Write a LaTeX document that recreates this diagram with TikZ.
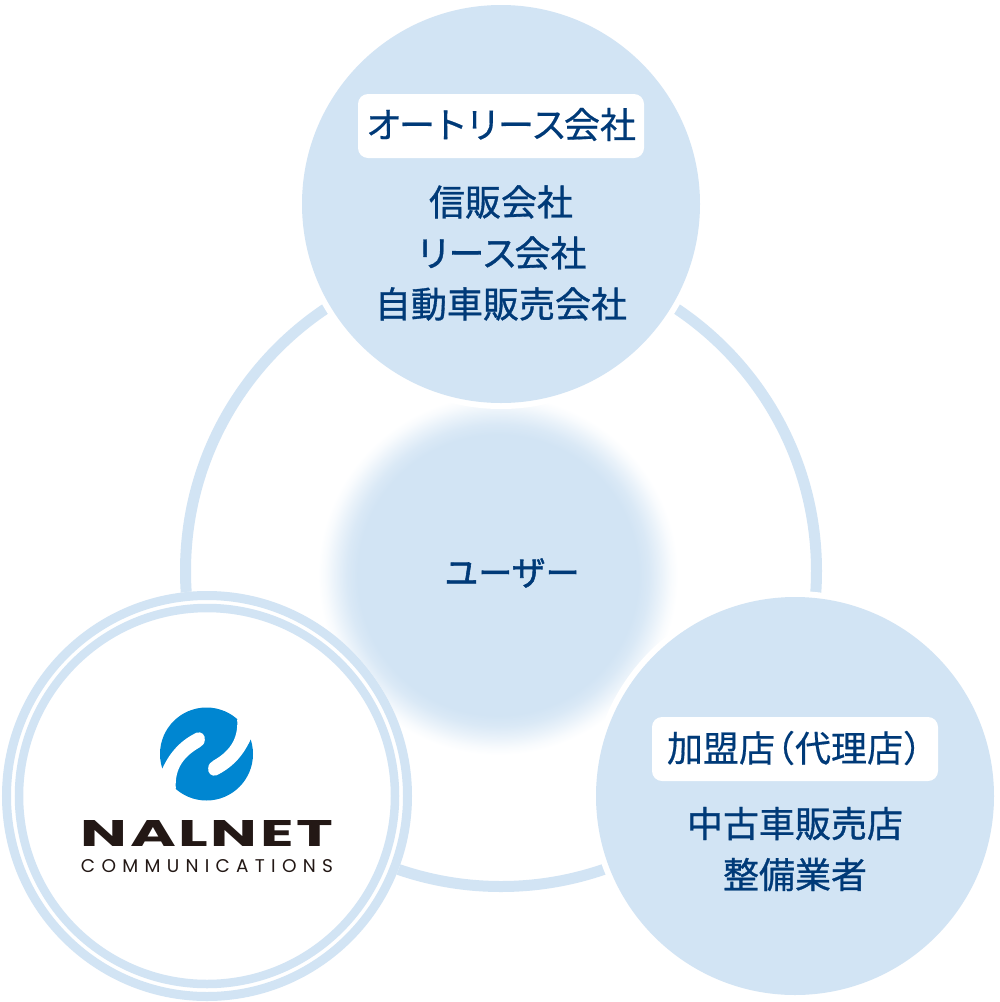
\documentclass[tikz,border=0pt]{standalone}
\usepackage{fontspec}
\usepackage{graphicx}
\newfontfamily\cjk{Noto Sans CJK JP}[FakeBold=0.9]
\newfontfamily\cjkheavy{Noto Sans CJK JP}[FakeBold=1.6]
\newfontfamily\cjklight{Noto Sans CJK JP}[FakeBold=0.5]
\newfontfamily\logofont{Poppins}[LetterSpace=4]
\newfontfamily\logosmall{Poppins}[LetterSpace=34]
\definecolor{paleblue}{HTML}{D2E4F4}
\definecolor{inkblue}{HTML}{003A78}
\definecolor{logoblue}{HTML}{0086D1}
\definecolor{logoblack}{HTML}{231815}
\pgfdeclareradialshading{userglow}{\pgfpoint{0bp}{0bp}}{
    color(0bp)=(paleblue); color(19.5bp)=(paleblue); color(21bp)=(paleblue!82!white);
    color(22.5bp)=(paleblue!50!white); color(24bp)=(paleblue!15!white); color(25bp)=(white); color(50bp)=(white)}
\begin{document}
\begin{tikzpicture}[x=1pt,y=-1pt]  % 1 unit = 1 pixel of the picture, y runs downwards

    % Define some common styles
    \tikzset{
        bubble/.style={circle, fill=paleblue, minimum size=398pt, inner sep=0pt},
        halo/.style={circle, fill=white, minimum size=410pt, inner sep=0pt},
        tagbox/.style={fill=white, rounded corners=10pt, minimum width=286pt, minimum height=64pt, inner sep=0pt},
        tagtext/.style={font=\cjklight\fontsize{36}{40}\selectfont, text=inkblue, inner sep=0pt},
        bodytext/.style={font=\cjk\fontsize{36}{51}\selectfont, text=inkblue, align=center, inner sep=0pt},
        linkring/.style={draw=paleblue, line width=11pt}
    }

    \useasboundingbox (0,0) rectangle (1000,1002);
    \fill[white] (0,0) rectangle (1000,1002);

    % Big ring that links the three circles
    \draw[linkring] (501,571) circle (315.5);

    % Soft circle in the middle
    \shade[shading=userglow] (498,575) circle (180);
    \node[font=\cjkheavy\fontsize{34}{40}\selectfont, text=inkblue, inner sep=0pt] (user) at (512,573) {ユーザー};

    % White rims, they cut the ring
    \node[halo] (toprim) at (501,204) {};
    \node[halo] (rightrim) at (795,796) {};

    % Top circle
    \node[bubble] (lease) at (501,204) {};
    \node[tagbox] (leasebox) at (501,126) {};
    \node[tagtext] (leasetag) at (501,124.5) {オ\kern-3pt ー\kern-3pt ト\kern-3pt リ\kern-3pt ー\kern-3pt ス\kern-3pt 会社};
    \node[bodytext] (leasetext) at (501,253) {信販会社\\リ\kern-3pt ー\kern-3pt ス\kern-3pt 会社\\自動車販売会社};

    % Right circle
    \node[bubble] (shop) at (795,796) {};
    \node[tagbox] (shopbox) at (795,749) {};
    \node[tagtext] (shoptag) at (795,748) {加盟店\kern-16pt（代理店）\kern-16pt};
    \node[bodytext] (shoptext) at (795,849) {中古車販売店\\整備業者};

    % Left circle with double ring
    \fill[white] (207,796) circle (205);
    \draw[paleblue, line width=9pt] (207,796) circle (200.5);
    \draw[paleblue, line width=8.5pt] (207,796) circle (188);

    % Logo mark, a disc with two white swooshes
    \fill[logoblue] (206.5,754) circle (46.5);
    \foreach \ang in {0,180} {
        \fill[white, shift={(206.5,754)}, rotate=\ang]
            (-60,16) -- (-44,14.3) .. controls (-36,-3) and (-25,-14) .. (-10,-21.3)
            .. controls (-5,-23) and (-1,-19) .. (-1.7,-14)
            .. controls (-2,-10) and (-4,-8.5) .. (-6.7,-6.7)
            .. controls (-22,2) and (-32,14) .. (-30.7,34.3) -- (-50,50) -- cycle;
    }

    % Logo words
    \node[inner sep=0pt, text=logoblack] (logoname) at (207,833)
        {\resizebox{252pt}{26pt}{\logofont\bfseries NALNET}};
    \node[inner sep=0pt, text=logoblack] (logosub) at (207,866)
        {\resizebox{252pt}{13pt}{\logosmall COMMUNICATIONS}};

\end{tikzpicture}
\end{document}
